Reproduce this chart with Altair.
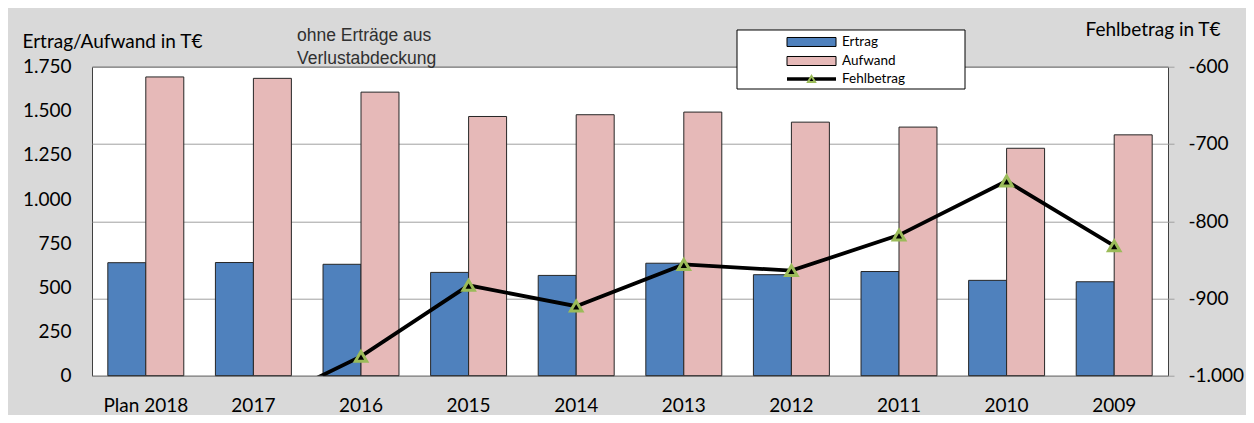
import altair as alt
import pandas as pd

years = ["Plan 2018", "2017", "2016", "2015", "2014", "2013", "2012", "2011", "2010", "2009"]
ertrag = [640, 641, 631, 585, 568, 637, 572, 590, 540, 532]
aufwand = [1692, 1684, 1606, 1468, 1478, 1493, 1436, 1408, 1288, 1364]
fehlbetrag = [-1052, -1043, -975, -883, -910, -856, -864, -818, -748, -832]

left_ticks = [0, 250, 500, 750, 1000, 1250, 1500, 1750]
right_ticks = [-1000, -900, -800, -700, -600]
series = ["Ertrag", "Aufwand"]
colors = ["#4F81BD", "#E6B9B8"]

W, H = 1076, 309
FONT = "Lato"

rows = []
for y, e, a in zip(years, ertrag, aufwand):
    rows.append({"year": y, "series": "Ertrag", "value": e})
    rows.append({"year": y, "series": "Aufwand", "value": a})
df_bars = pd.DataFrame(rows)
df_line = pd.DataFrame({"year": years, "fehl": fehlbetrag})

num_expr = "replace(replace(format(datum.value, ','), ',', '.'), '\u2212', '-')"

xscale = alt.Scale(domain=years, paddingInner=0.294, paddingOuter=0.147)
xaxis = alt.Axis(labelAngle=0, labelFont=FONT, labelFontSize=19, labelColor="#000000",
                 labelPadding=21, ticks=False, domain=False, title=None)

bars = alt.Chart(df_bars).mark_bar(stroke="#262626", strokeWidth=1).encode(
    x=alt.X("year:N", sort=years, scale=xscale, axis=xaxis),
    xOffset=alt.XOffset("series:N", sort=series, scale=alt.Scale(domain=series, paddingInner=0, paddingOuter=0)),
    y=alt.Y("value:Q", scale=alt.Scale(domain=[0, 1750], nice=False, zero=True),
            axis=alt.Axis(values=left_ticks, labelExpr=num_expr, grid=False, domain=False, ticks=False,
                          labelFont=FONT, labelFontSize=19, labelColor="#000000", labelPadding=21,
                          title="Ertrag/Aufwand in T€", titleAngle=0, titleAlign="left",
                          titleBaseline="middle", titleX=-70, titleY=-25, titleFont=FONT,
                          titleFontSize=19, titleFontWeight="normal", titleColor="#000000")),
    color=alt.Color("series:N", scale=alt.Scale(domain=series, range=colors), legend=None),
)

yright = alt.Y("fehl:Q", scale=alt.Scale(domain=[-1000, -600], nice=False, zero=False),
               axis=alt.Axis(orient="right", values=right_ticks, labelExpr=num_expr, grid=True,
                             gridColor="#A0A0A0", gridWidth=1, domain=False, ticks=True, tickSize=6,
                             tickColor="#A0A0A0", labelFont=FONT, labelFontSize=19,
                             labelColor="#000000", labelPadding=14,
                             title="Fehlbetrag in T€", titleAngle=0, titleAlign="left",
                             titleBaseline="middle", titleX=-83, titleY=-37, titleFont=FONT,
                             titleFontSize=19, titleFontWeight="normal", titleColor="#000000"))

line = alt.Chart(df_line).mark_line(color="#000000", strokeWidth=3.8, clip=True).encode(
    x=alt.X("year:N", sort=years, scale=xscale, axis=xaxis),
    y=yright,
)
pts = alt.Chart(df_line).mark_point(shape="triangle-up", filled=True, fill="#000000",
                                     stroke="#9BBB59", strokeWidth=3, size=130, opacity=1,
                                     clip=True).encode(
    x=alt.X("year:N", sort=years, scale=xscale, axis=xaxis),
    y=alt.Y("fehl:Q", scale=alt.Scale(domain=[-1000, -600], nice=False, zero=False), axis=None),
)

one = pd.DataFrame({"k": [0]})

note = alt.Chart(one).mark_text(text=["ohne Erträge aus", "Verlustabdeckung"], align="left",
                                baseline="middle", lineHeight=23, font="Liberation Sans",
                                fontSize=17.5, color="#303030").encode(
    x=alt.value(205), y=alt.value(-31))

legend_box = alt.Chart(one).mark_rect(fill="#FFFFFF", stroke="#000000", strokeWidth=1).encode(
    x=alt.value(645), x2=alt.value(873), y=alt.value(-36.7), y2=alt.value(22.3))

leg_labels = ["Ertrag", "Aufwand", "Fehlbetrag"]
leg_y = [-24.7, -5.7, 12.3]
legend_layers = [legend_box]
for lab, col, yy in zip(leg_labels[:2], colors, leg_y[:2]):
    legend_layers.append(alt.Chart(one).mark_rect(fill=col, stroke="#000000", strokeWidth=1).encode(
        x=alt.value(695), x2=alt.value(744), y=alt.value(yy - 4.5), y2=alt.value(yy + 4.5)))
legend_layers.append(alt.Chart(one).mark_rule(color="#000000", strokeWidth=3.5).encode(
    x=alt.value(695), x2=alt.value(744), y=alt.value(leg_y[2])))
legend_layers.append(alt.Chart(one).mark_point(shape="triangle-up", filled=True, fill="#000000",
                                               stroke="#9BBB59", strokeWidth=2, size=50,
                                               opacity=1).encode(
    x=alt.value(719.5), y=alt.value(leg_y[2])))
for lab, yy in zip(leg_labels, leg_y):
    legend_layers.append(alt.Chart(one).mark_text(text=lab, align="left", baseline="middle",
                                                  font=FONT, fontSize=13.5, color="#000000").encode(
        x=alt.value(750), y=alt.value(yy)))

chart = alt.layer(bars, line, pts, note, *legend_layers).resolve_scale(
    y="independent"
).properties(
    width=W, height=H,
    autosize=alt.AutoSizeParams(type="none"),
    padding={"left": 84, "top": 58.7, "right": 78, "bottom": 39.3},
    background="#D9D9D9",
).configure_view(
    fill="#FFFFFF", stroke="#404040", strokeWidth=1
)

chart.save("out.html", embed_options={"renderer": "svg", "actions": False})
